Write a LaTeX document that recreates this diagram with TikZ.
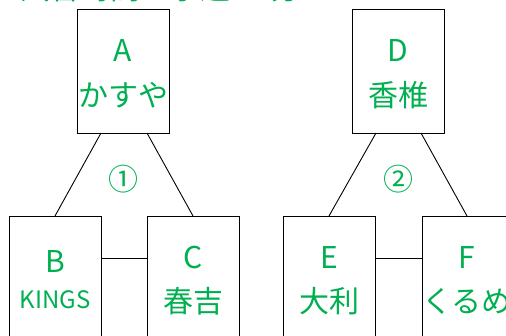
\documentclass[tikz,border=0pt]{standalone}
\usepackage{fontspec}
\newfontfamily\jp{Noto Sans CJK JP}
\definecolor{xlgreen}{RGB}{0,176,80}
\begin{document}
\begin{tikzpicture}[x=1pt,y=-1pt,
  box/.style={draw=black,line width=0.9pt,minimum width=92pt,minimum height=124pt,inner sep=0pt},
  big/.style={text=xlgreen,font=\jp\fontsize{30}{32}\selectfont,inner sep=0pt},
  small/.style={text=xlgreen,font=\jp\fontsize{24}{26}\selectfont,inner sep=0pt},
  link/.style={draw=black,line width=0.9pt}]
\useasboundingbox (0,0) rectangle (506,336);
\clip (0,0) rectangle (506,336);
\node[big,anchor=base west] (title) at (20,-0.5) {試合時間：予選 10分};
\node[box] (A) at (123,71) {};
\node[box] (D) at (398,71) {};
\node[box] (B) at (55,278) {};
\node[box] (C) at (193,278) {};
\node[box] (E) at (329,278) {};
\node[box] (F) at (468,278) {};
\coordinate (A1) at (101,133); \coordinate (A2) at (147,133);
\coordinate (D1) at (376,133); \coordinate (D2) at (421,133);
\coordinate (B1) at (55,216); \coordinate (C1) at (193,216);
\coordinate (E1) at (329,216); \coordinate (F1) at (467,216);
\draw[link] (A1) -- (B1);
\draw[link] (A2) -- (C1);
\draw[link] (D1) -- (E1);
\draw[link] (D2) -- (F1);
\draw[link] (B.east |- 0,258) -- (C.west |- 0,258);
\draw[link] (E.east |- 0,258) -- (F.west |- 0,258);
\node[big] (At) at (123,51) {A};
\node[big] (Aj) at (123,95) {かすや};
\node[big] (Dt) at (398,51) {D};
\node[big] (Dj) at (398,95) {香椎};
\node[big] (n1) at (123,179) {①};
\node[big] (n2) at (398,179) {②};
\node[big] (Bt) at (55,262) {B};
\node[small] (Bj) at (55,300) {KINGS};
\node[big] (Ct) at (193,258) {C};
\node[big] (Cj) at (193,301) {春吉};
\node[big] (Et) at (329,258) {E};
\node[big] (Ej) at (329,301) {大利};
\node[big] (Ft) at (467,258) {F};
\node[big] (Fj) at (467,301) {くるめ};
\end{tikzpicture}
\end{document}
